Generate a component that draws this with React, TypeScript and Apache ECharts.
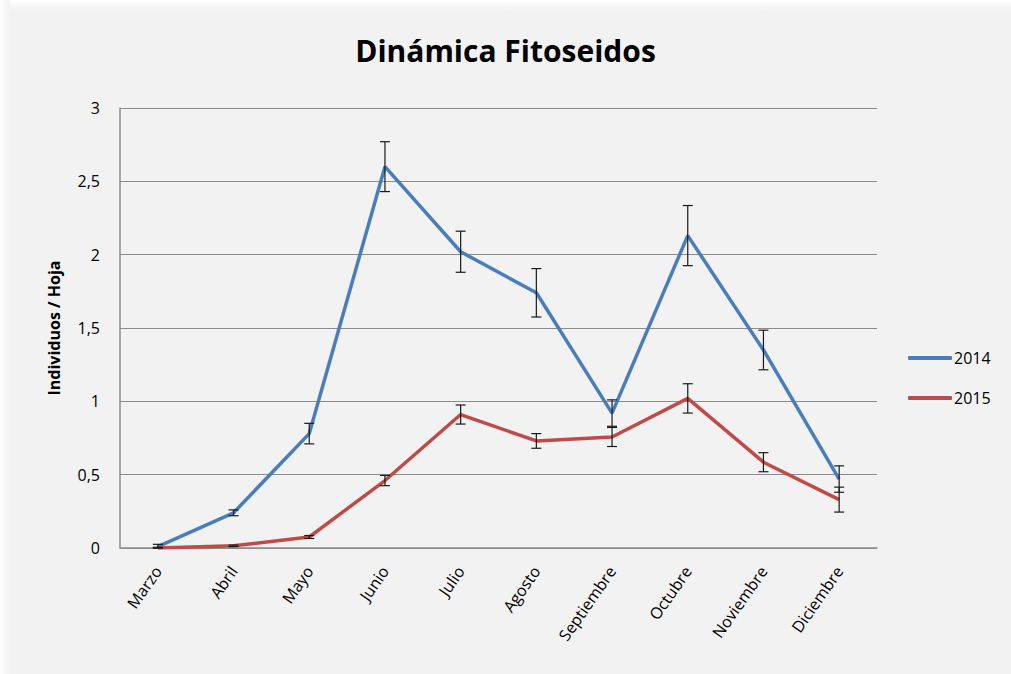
import React, { useEffect, useRef } from "react";
import * as echarts from "echarts";

const months = ["Marzo", "Abril", "Mayo", "Junio", "Julio", "Agosto", "Septiembre", "Octubre", "Noviembre", "Diciembre"];
const v2014 = [0.01, 0.24, 0.78, 2.6, 2.02, 1.74, 0.92, 2.13, 1.35, 0.47];
const e2014 = [0.015, 0.02, 0.07, 0.17, 0.14, 0.165, 0.09, 0.205, 0.135, 0.09];
const v2015 = [0.0, 0.015, 0.075, 0.46, 0.91, 0.73, 0.757, 1.02, 0.585, 0.33];
const e2015 = [0.005, 0.005, 0.01, 0.035, 0.065, 0.05, 0.065, 0.1, 0.065, 0.085];
const yTicks = [0, 0.5, 1, 1.5, 2, 2.5, 3];

const FONT = "'Open Sans', 'Noto Sans', sans-serif";

function errData(vals: number[], errs: number[]) {
  return vals.map((v, i) => [i, Math.max(0, v - errs[i]), v + errs[i]]);
}

function renderErr(params: any, api: any) {
  const x = api.value(0);
  const lo = api.value(1);
  const hi = api.value(2);
  const pTop = api.coord([x, hi]);
  const pBot = api.coord([x, lo]);
  const w = 5;
  const style = { stroke: "#1a1a1a", lineWidth: 1.2 };
  return {
    type: "group",
    children: [
      { type: "line", shape: { x1: pTop[0], y1: pTop[1], x2: pBot[0], y2: pBot[1] }, style },
      { type: "line", shape: { x1: pTop[0] - w, y1: pTop[1], x2: pTop[0] + w, y2: pTop[1] }, style },
      { type: "line", shape: { x1: pBot[0] - w, y1: pBot[1], x2: pBot[0] + w, y2: pBot[1] }, style },
    ],
  };
}

export default function App() {
  const ref = useRef<HTMLDivElement>(null);
  useEffect(() => {
    if (!ref.current) return;
    const chart = echarts.init(ref.current, null, { renderer: "svg" });
    chart.setOption({
      animation: false,
      backgroundColor: "#f2f2f2",
      title: {
        text: "Dinámica Fitoseidos",
        left: "center",
        top: 30,
        textStyle: { fontFamily: FONT, fontWeight: "bold", fontSize: 30, color: "#000" },
      },
      graphic: [
        {
          type: "rect",
          shape: { x: 0, y: 0, width: 1011, height: 10 },
          style: {
            fill: new echarts.graphic.LinearGradient(0, 0, 0, 1, [
              { offset: 0, color: "#ffffff" },
              { offset: 1, color: "#f2f2f2" },
            ]),
          },
          silent: true,
        },
        {
          type: "rect",
          shape: { x: 0, y: 0, width: 10, height: 674 },
          style: {
            fill: new echarts.graphic.LinearGradient(0, 0, 1, 0, [
              { offset: 0, color: "#ffffff" },
              { offset: 1, color: "#f2f2f2" },
            ]),
          },
          silent: true,
        },
      ],
      legend: {
        orient: "vertical",
        left: 903,
        top: 345,
        itemWidth: 44,
        itemHeight: 4,
        itemGap: 24,
        icon: "roundRect",
        data: ["2014", "2015"],
        textStyle: { fontFamily: FONT, fontSize: 16, color: "#000", padding: [0, 0, 0, -3] },
      },
      grid: { left: 120, right: 134, top: 108, bottom: 126 },
      xAxis: {
        type: "category",
        data: months,
        boundaryGap: true,
        axisLine: { show: true, lineStyle: { color: "#8c8c8c", width: 1.5 } },
        axisTick: { show: false },
        axisLabel: {
          rotate: 55,
          margin: 20,
          interval: 0,
          fontFamily: FONT,
          fontSize: 16,
          color: "#000",
        },
      },
      yAxis: {
        type: "value",
        min: 0,
        max: 3,
        interval: 0.5,
        name: "Individuos / Hoja",
        nameLocation: "middle",
        nameGap: 58,
        nameRotate: 90,
        nameTextStyle: { fontFamily: FONT, fontWeight: "bold", fontSize: 16, color: "#000" },
        axisLine: { show: true, lineStyle: { color: "#8c8c8c", width: 1.5 } },
        axisTick: { show: false },
        splitLine: { show: true, lineStyle: { color: "#8c8c8c", width: 1.2 } },
        axisLabel: {
          fontFamily: FONT,
          fontSize: 16,
          color: "#000",
          margin: 20,
          formatter: (v: number) => (yTicks.includes(v) ? String(v).replace(".", ",") : ""),
        },
      },
      series: [
        {
          name: "2014",
          type: "line",
          data: v2014,
          symbol: "none",
          lineStyle: { color: "#4a7ebb", width: 3.5 },
          itemStyle: { color: "#4a7ebb" },
          z: 2,
        },
        {
          name: "2015",
          type: "line",
          data: v2015,
          symbol: "none",
          lineStyle: { color: "#be4b48", width: 3.5 },
          itemStyle: { color: "#be4b48" },
          z: 2,
        },
        {
          name: "err2014",
          type: "custom",
          renderItem: renderErr,
          data: errData(v2014, e2014),
          encode: { x: 0, y: [1, 2] },
          z: 5,
          silent: true,
        },
        {
          name: "err2015",
          type: "custom",
          renderItem: renderErr,
          data: errData(v2015, e2015),
          encode: { x: 0, y: [1, 2] },
          z: 5,
          silent: true,
        },
      ],
    });
    return () => chart.dispose();
  }, []);
  return <div ref={ref} style={{ position: "fixed", left: 0, top: 0, width: 1011, height: 674 }} />;
}
